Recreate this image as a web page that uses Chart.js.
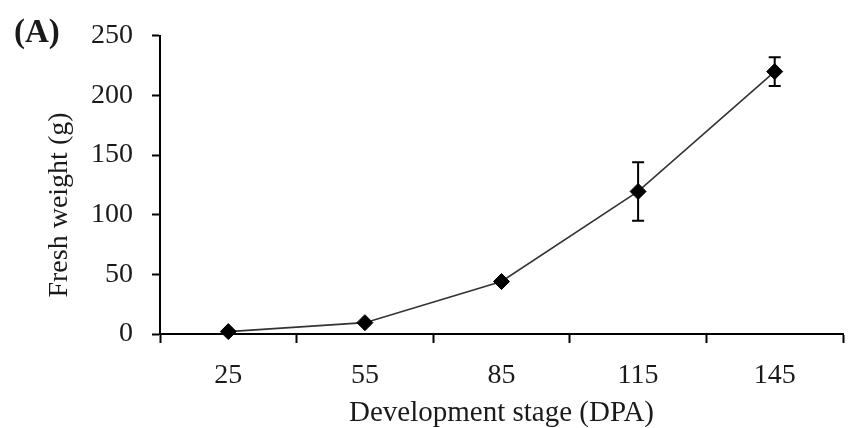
<!DOCTYPE html>
<html>
<head>
<meta charset="utf-8">
<script src="https://cdn.jsdelivr.net/npm/chart.js@4/dist/chart.umd.min.js"></script>
<style>
  html, body { margin: 0; padding: 0; background: #fff; }
  #wrap { width: 852px; height: 428px; }
</style>
</head>
<body>
<div id="wrap"><canvas id="c"></canvas></div>
<script>
// ---------------- DATA ----------------
const stages = ["25", "55", "85", "115", "145"];
const freshWeight = [2, 9.5, 44, 119.5, 220];
const errorBars = [0, 0, 0, 24.5, 12];
const yTicks = [0, 50, 100, 150, 200, 250];

const serif = "'Liberation Serif', 'Times New Roman', serif";

// ---------------- ERROR BARS + EXTRA TEXT ----------------
const extras = {
    id: "extras",
    afterDatasetsDraw(chart){
        const ctx = chart.ctx;
        const x = chart.scales.x, y = chart.scales.y;
        ctx.save();
        ctx.strokeStyle = "#000";
        ctx.lineWidth = 2;
        freshWeight.forEach((v, i) => {
            const e = errorBars[i];
            if (!e) return;
            const px = x.getPixelForValue(i);
            const top = y.getPixelForValue(v + e);
            const bot = y.getPixelForValue(v - e);
            ctx.beginPath();
            ctx.moveTo(px, top); ctx.lineTo(px, bot);
            ctx.moveTo(px - 6, top); ctx.lineTo(px + 6, top);
            ctx.moveTo(px - 6, bot); ctx.lineTo(px + 6, bot);
            ctx.stroke();
        });
        ctx.restore();
    },
    afterDraw(chart){
        const ctx = chart.ctx;
        ctx.save();
        ctx.fillStyle = "#1a1a1a";
        ctx.font = "bold 33px " + serif;
        ctx.textBaseline = "middle";
        ctx.fillText("(A)", 14, 33);
        ctx.translate(60, 205);
        ctx.rotate(-Math.PI / 2);
        ctx.font = "28px " + serif;
        ctx.textAlign = "center";
        ctx.fillText("Fresh weight (g)", 0, 0);
        ctx.restore();
    }
};

new Chart(document.getElementById("c"), {
    type: "line",
    data: {
        labels: stages,
        datasets: [{
            data: freshWeight,
            borderColor: "#333",
            borderWidth: 1.6,
            pointStyle: "rectRot",
            pointRadius: 8,
            pointBackgroundColor: "#000",
            pointBorderColor: "#000",
            pointBorderWidth: 1,
            tension: 0,
            clip: false
        }]
    },
    options: {
        responsive: true,
        maintainAspectRatio: false,
        animation: false,
        layout: { padding: { left: 0, right: 5, top: 31, bottom: 0 } },
        plugins: { legend: { display: false }, tooltip: { enabled: false } },
        scales: {
            x: {
                offset: true,
                grid: { display: true, drawOnChartArea: false, drawTicks: true, tickLength: 9, tickColor: "#000", tickWidth: 2, offset: true },
                border: { color: "#000", width: 2 },
                ticks: { color: "#1a1a1a", font: { family: serif, size: 28 }, padding: 16 },
                title: { display: true, text: "Development stage (DPA)", color: "#1a1a1a", font: { family: serif, size: 29, lineHeight: 1 }, padding: { top: 0, bottom: 0 } },
                afterFit(s){ s.height = 94; }
            },
            y: {
                min: 0,
                max: 250,
                afterBuildTicks(s){ s.ticks = yTicks.map(v => ({ value: v })); },
                grid: { display: true, drawOnChartArea: false, drawTicks: true, tickLength: 8, tickColor: "#000", tickWidth: 2 },
                border: { color: "#000", width: 2 },
                ticks: { color: "#1a1a1a", font: { family: serif, size: 28 }, padding: 19 },
                afterFit(s){ s.width = 160; }
            }
        }
    },
    plugins: [extras]
});
</script>
</body>
</html>
